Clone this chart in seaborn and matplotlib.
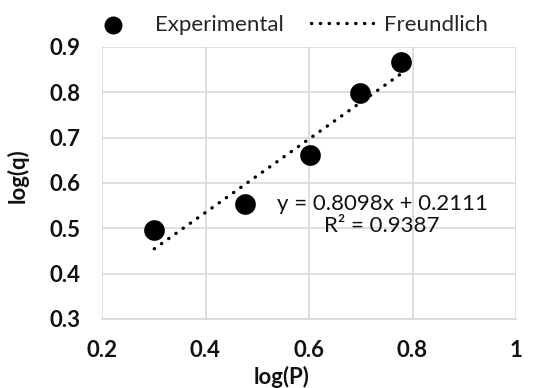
import numpy as np
import pandas as pd
import matplotlib
matplotlib.use("Agg")
import matplotlib.pyplot as plt
import seaborn as sns

# Data
log_p = [0.301, 0.477, 0.602, 0.699, 0.778]
log_q = [0.497, 0.554, 0.661, 0.798, 0.868]
fit_slope = 0.8098
fit_intercept = 0.2111
fit_r2 = 0.9387
x_ticks = [0.2, 0.4, 0.6, 0.8, 1.0]
x_tick_labels = ["0.2", "0.4", "0.6", "0.8", "1"]
y_ticks = [0.3, 0.4, 0.5, 0.6, 0.7, 0.8, 0.9]

sns.set_theme(style="white")
plt.rcParams['font.family'] = ['Lato', 'DejaVu Sans']

df = pd.DataFrame({"log(P)": log_p, "log(q)": log_q})
fx = np.array([min(log_p), max(log_p)])
fit_df = pd.DataFrame({"x": fx, "y": fit_slope * fx + fit_intercept})

FS = 16
fig = plt.figure(figsize=(5.36, 3.88), dpi=100)
ax = fig.add_axes([102/536, 1 - 319/388, (516-102)/536, (319-47)/388])

sns.lineplot(data=fit_df, x="x", y="y", ax=ax, color="black", linestyle=(0, (0.1, 2.55)),
             dash_capstyle="round", linewidth=2.4, label="Freundlich", zorder=2)
sns.scatterplot(data=df, x="log(P)", y="log(q)", ax=ax, color="black", s=222,
                edgecolor="black", linewidth=0, label="Experimental", zorder=3)

ax.set_xlim(0.2, 1.0)
ax.set_ylim(0.3, 0.9)
ax.set_xticks(x_ticks)
ax.set_xticklabels(x_tick_labels)
ax.set_yticks(y_ticks)
ax.set_yticklabels([f"{v:.1f}" for v in y_ticks])
ax.grid(True, color="#d9d9d9", linewidth=1.2)
for s in ax.spines.values():
    s.set_visible(False)
ax.spines['bottom'].set_visible(True)
ax.spines['bottom'].set_color("#d9d9d9")
ax.spines['bottom'].set_linewidth(1.2)
ax.tick_params(axis="x", length=0, labelsize=FS, pad=15)
ax.tick_params(axis="y", length=0, labelsize=FS, pad=15.5)
for lab in ax.get_xticklabels() + ax.get_yticklabels():
    lab.set_fontweight("bold")
    lab.set_color("#111111")
ax.set_xlabel("log(P)", fontsize=FS, fontweight="bold", va="center", color="#111111")
ax.set_ylabel("log(q)", fontsize=FS, fontweight="bold", va="center", color="#111111")
ax.xaxis.set_label_coords((282 - 102) / 414, (319 - 377) / 272)
ax.yaxis.set_label_coords((18 - 102) / 414, (319 - 176) / 272)

ax.text(0.741, 0.529, f"y = {fit_slope}x + {fit_intercept}\nR² = {fit_r2}",
        ha="center", va="center", fontsize=FS, linespacing=1.15, color="#111111")

handles, labels = ax.get_legend_handles_labels()
order = [labels.index("Experimental"), labels.index("Freundlich")]
ax.legend_.remove()
fig.legend([handles[i] for i in order], [labels[i] for i in order],
           loc="center", bbox_to_anchor=(285/536, 1 - 25/388), ncol=2, frameon=False,
           fontsize=FS, handlelength=2.8, columnspacing=1.2, handletextpad=0.5,
           markerscale=0.87, borderpad=0, borderaxespad=0)

fig.savefig("out.png", dpi=100)
